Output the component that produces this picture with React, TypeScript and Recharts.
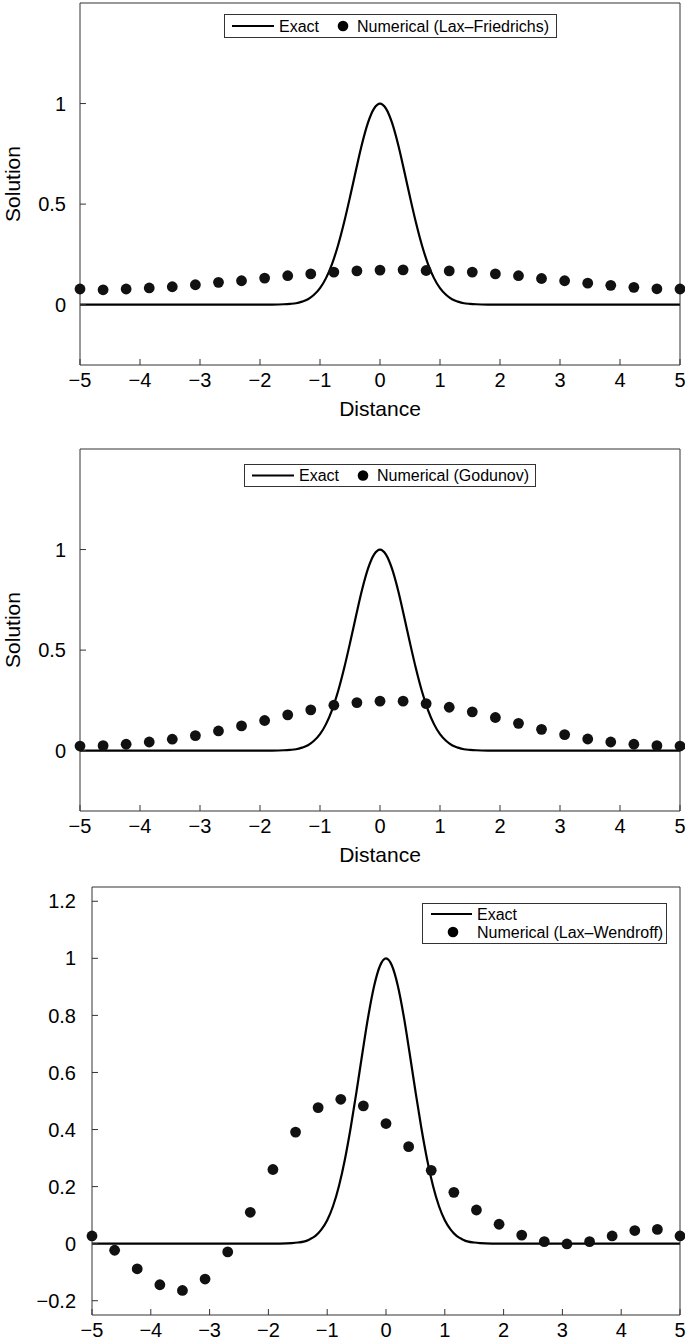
import React from "react";
import { ComposedChart, Line, Scatter, XAxis, YAxis, Legend } from "recharts";

// grid points of the numerical schemes (27 nodes on [-5, 5])
const gridX = [
  -5, -4.615, -4.231, -3.846, -3.462, -3.077, -2.692, -2.308, -1.923, -1.538, -1.154, -0.769, -0.385, 0,
  0.385, 0.769, 1.154, 1.538, 1.923, 2.308, 2.692, 3.077, 3.462, 3.846, 4.231, 4.615, 5,
];

const laxFriedrichs = [
  0.078, 0.074, 0.078, 0.083, 0.089, 0.099, 0.111, 0.119, 0.132, 0.144, 0.153, 0.162, 0.168, 0.172,
  0.173, 0.17, 0.168, 0.162, 0.153, 0.144, 0.13, 0.119, 0.107, 0.096, 0.086, 0.079, 0.078,
];

const godunov = [
  0.023, 0.025, 0.032, 0.043, 0.057, 0.075, 0.098, 0.123, 0.15, 0.178, 0.203, 0.226, 0.239, 0.246,
  0.246, 0.234, 0.216, 0.193, 0.165, 0.136, 0.106, 0.08, 0.058, 0.043, 0.032, 0.025, 0.023,
];

const laxWendroff = [
  0.027, -0.023, -0.088, -0.144, -0.164, -0.124, -0.029, 0.11, 0.26, 0.391, 0.477, 0.506, 0.483, 0.421,
  0.34, 0.257, 0.18, 0.118, 0.068, 0.03, 0.007, -0.001, 0.007, 0.027, 0.046, 0.05, 0.027,
];

// exact pulse
const exactX = [
  -5, -2, -1.8, -1.6, -1.5, -1.4, -1.3, -1.2, -1.1, -1, -0.9, -0.8, -0.7, -0.6, -0.5, -0.4, -0.3, -0.2, -0.1,
  0, 0.1, 0.2, 0.3, 0.4, 0.5, 0.6, 0.7, 0.8, 0.9, 1, 1.1, 1.2, 1.3, 1.4, 1.5, 1.6, 1.8, 2, 5,
];
const exactY = [
  0, 0, 0.0003, 0.002, 0.004, 0.007, 0.015, 0.027, 0.049, 0.082, 0.132, 0.202, 0.294, 0.407, 0.535, 0.67,
  0.799, 0.905, 0.975, 1, 0.975, 0.905, 0.799, 0.67, 0.535, 0.407, 0.294, 0.202, 0.132, 0.082, 0.049,
  0.027, 0.015, 0.007, 0.004, 0.002, 0.0003, 0, 0,
];

const xTicks = [-5, -4, -3, -2, -1, 0, 1, 2, 3, 4, 5];
const yTicksSolution = [0, 0.5, 1];
const yTicksWendroff = [-0.2, 0, 0.2, 0.4, 0.6, 0.8, 1, 1.2];

const FONT = '"Liberation Sans", Arial, Helvetica, sans-serif';
const INK = "#000";
const AXIS = "#333";

const fmt = (v: number) => (v < 0 ? "\u2212" + Math.abs(v) : String(v));
const blank = () => "";

const exactData = exactX.map((x, i) => ({ x, y: exactY[i] }));

type LegendSpec = {
  left: number;
  top: number;
  w: number;
  h: number;
  stacked: boolean;
  label: string;
};

function LegendBox({ spec }: { spec: LegendSpec }) {
  const { w, h, stacked, label } = spec;
  const txt = { fontSize: 16, fontFamily: FONT, fill: "#000" };
  if (stacked) {
    // two rows: line + Exact, dot + Numerical
    return (
      <svg width={w} height={h} style={{ display: "block" }}>
        <rect x={0.5} y={0.5} width={w - 1} height={h - 1} fill="#fff" stroke={AXIS} />
        <line x1={9} x2={50} y1={11} y2={11} stroke={INK} strokeWidth={2} />
        <text x={55} y={11} dy="0.36em" {...txt}>Exact</text>
        <circle cx={31} cy={29} r={5.3} fill={INK} />
        <text x={55} y={29} dy="0.36em" {...txt}>{label}</text>
      </svg>
    );
  }
  const cy = h / 2;
  return (
    <svg width={w} height={h} style={{ display: "block" }}>
      <rect x={0.5} y={0.5} width={w - 1} height={h - 1} fill="#fff" stroke={AXIS} />
      <line x1={8} x2={50} y1={cy} y2={cy} stroke={INK} strokeWidth={2} />
      <text x={55} y={cy} dy="0.36em" {...txt}>Exact</text>
      <circle cx={119} cy={cy} r={5.3} fill={INK} />
      <text x={133} y={cy} dy="0.36em" {...txt}>{label}</text>
    </svg>
  );
}

type PanelProps = {
  top: number;
  height: number;
  yWidth: number;
  bottomH: number;
  yDomain: [number, number];
  yTicks: number[];
  numerical: number[];
  legend: LegendSpec;
  withLabels: boolean;
  yTickMargin: number;
};

function Panel(p: PanelProps) {
  const dots = gridX.map((x, i) => ({ x, y: p.numerical[i] }));
  const tickStyle = { fontSize: 20, fill: "#000", fontFamily: FONT };
  return (
    <div style={{ position: "absolute", left: 0, top: p.top }}>
      <ComposedChart width={685} height={p.height} margin={{ top: 2, right: 4, bottom: 0, left: 0 }}>
        <XAxis
          xAxisId="b"
          dataKey="x"
          type="number"
          domain={[-5, 5]}
          ticks={xTicks}
          interval={0}
          height={p.bottomH}
          tickSize={-6}
          tickMargin={14}
          tickFormatter={fmt}
          tick={tickStyle}
          stroke={AXIS}
          label={
            p.withLabels
              ? { value: "Distance", position: "insideBottom", offset: 14, fontSize: 21, fill: "#000", fontFamily: FONT }
              : undefined
          }
        />
        <XAxis
          xAxisId="t"
          orientation="top"
          type="number"
          domain={[-5, 5]}
          ticks={xTicks}
          interval={0}
          height={1}
          tickSize={-6}
          tickFormatter={blank}
          stroke={AXIS}
        />
        <YAxis
          yAxisId="l"
          dataKey="y"
          type="number"
          domain={p.yDomain}
          ticks={p.yTicks}
          interval={0}
          width={p.yWidth}
          tickSize={-6}
          tickMargin={p.yTickMargin}
          tickFormatter={fmt}
          tick={tickStyle}
          stroke={AXIS}
          label={
            p.withLabels
              ? {
                  value: "Solution",
                  angle: -90,
                  position: "insideLeft",
                  offset: 13,
                  fontSize: 21,
                  fill: "#000",
                  fontFamily: FONT,
                  style: { textAnchor: "middle" },
                }
              : undefined
          }
        />
        <YAxis
          yAxisId="r"
          orientation="right"
          type="number"
          domain={p.yDomain}
          ticks={p.yTicks}
          interval={0}
          width={1}
          tickSize={-6}
          tickFormatter={blank}
          stroke={AXIS}
        />
        <Line
          xAxisId="b"
          yAxisId="l"
          data={exactData}
          dataKey="y"
          type="monotone"
          stroke={INK}
          strokeWidth={2.2}
          dot={false}
          isAnimationActive={false}
        />
        <Scatter
          xAxisId="b"
          yAxisId="l"
          data={dots}
          dataKey="y"
          fill={INK}
          isAnimationActive={false}
          shape={(s: any) => <circle cx={s.cx} cy={s.cy} r={5.4} fill="#111" />}
        />
        <Legend
          layout="horizontal"
          verticalAlign="middle"
          align="center"
          wrapperStyle={{ left: p.legend.left, top: p.legend.top, width: p.legend.w, height: p.legend.h }}
          content={() => <LegendBox spec={p.legend} />}
        />
      </ComposedChart>
    </div>
  );
}

export default function App() {
  return (
    <div style={{ position: "absolute", left: 0, top: 0, width: 685, height: 1343, background: "#fff" }}>
      <Panel
        top={0}
        height={430}
        yWidth={80}
        bottomH={65}
        yDomain={[-0.3, 1.5]}
        yTicks={yTicksSolution}
        numerical={laxFriedrichs}
        withLabels
        yTickMargin={20}
        legend={{ left: 224, top: 14, w: 333, h: 24, stacked: false, label: "Numerical (Lax\u2013Friedrichs)" }}
      />
      <Panel
        top={446}
        height={430}
        yWidth={80}
        bottomH={65}
        yDomain={[-0.3, 1.5]}
        yTicks={yTicksSolution}
        numerical={godunov}
        withLabels
        yTickMargin={20}
        legend={{ left: 244, top: 18, w: 292, h: 23, stacked: false, label: "Numerical (Godunov)" }}
      />
      <Panel
        top={884}
        height={459}
        yWidth={92}
        bottomH={28}
        yDomain={[-0.25, 1.25]}
        yTicks={yTicksWendroff}
        numerical={laxWendroff}
        withLabels={false}
        yTickMargin={22}
        legend={{ left: 422, top: 19, w: 245, h: 41, stacked: true, label: "Numerical (Lax\u2013Wendroff)" }}
      />
    </div>
  );
}
